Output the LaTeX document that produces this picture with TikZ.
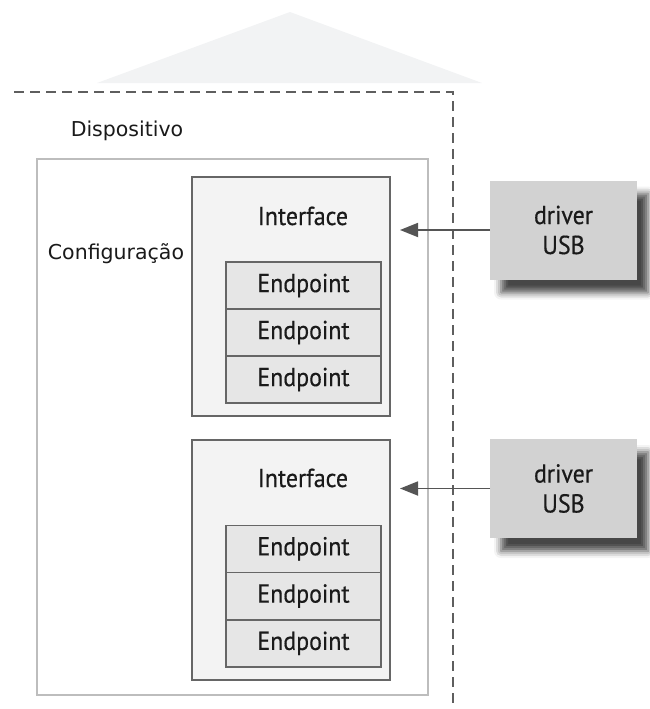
\documentclass[tikz,border=0pt]{standalone}
\usepackage{fontspec}
\setmainfont{DejaVu Sans}
\newfontfamily\myr[FakeStretch=0.92,FakeBold=0.4]{PT Sans}
\usetikzlibrary{shadows.blur,arrows.meta}
\definecolor{trifill}{HTML}{F2F3F4}
\definecolor{dashcol}{HTML}{5E5E5E}
\definecolor{cfgcol}{HTML}{BDBDBD}
\definecolor{ifill}{HTML}{F3F3F3}
\definecolor{idraw}{HTML}{666666}
\definecolor{efill}{HTML}{E6E6E6}
\definecolor{dfill}{HTML}{D2D2D2}
\definecolor{arrcol}{HTML}{555555}
\definecolor{txt}{HTML}{1A1A1A}
\tikzset{
  cfgbox/.style={draw=cfgcol,line width=1.3pt,fill=white,inner sep=0pt,outer sep=0pt,
    minimum width=391pt,minimum height=536pt},
  ifbox/.style={draw=idraw,line width=1.4pt,fill=ifill,inner sep=0pt,outer sep=0pt,
    minimum width=198pt},
  epbox/.style={draw=idraw,line width=1.4pt,fill=efill,inner sep=0pt,outer sep=0pt,
    minimum width=155pt,minimum height=47pt,text=txt,font=\myr\fontsize{26}{30}\selectfont},
  drvbox/.style={fill=dfill,inner sep=0pt,outer sep=0pt,minimum width=147pt,minimum height=99pt,
    align=center,text=txt,font=\myr\fontsize{26}{30}\selectfont,
    blur shadow={shadow xshift=11pt,shadow yshift=-13pt,shadow blur radius=7pt,shadow opacity=72}},
  lbl/.style={inner sep=0pt,text=txt,font=\fontsize{20.5}{24}\selectfont},
  iflbl/.style={inner sep=0pt,text=txt,font=\myr\fontsize{26}{30}\selectfont},
  conn/.style={draw=arrcol,line width=1.8pt,-{Triangle[length=18pt,width=14pt]}},
  dashln/.style={draw=dashcol,line width=1.7pt,dash pattern=on 10pt off 6pt}
}
\begin{document}
\begin{tikzpicture}[x=1pt,y=-1pt]
\useasboundingbox (0,0) rectangle (649,709);
% faint triangle
\fill[trifill] (97,83) -- (290,12) -- (482,83) -- cycle;
% dashed device boundary
\coordinate (d1) at (14,92);
\coordinate (d2) at (453,92);
\coordinate (d3) at (453,709);
\draw[dashln] (d1) -- (d2) -- (d3);
% configuration box
\node[cfgbox] (cfg) at (232.5,427) {};
\node[lbl] (disp) at (127,131) {Dispositivo};
\node[lbl] (conf) at (116,254) {Configuração};
% interface 1
\node[ifbox,minimum height=239pt] (if1) at (291,296.5) {};
\node[iflbl] (if1l) at (303,216) {Interface};
\node[epbox] (e11) at (303.5,285.5) {Endpoint};
\node[epbox] (e12) at (303.5,332.5) {Endpoint};
\node[epbox] (e13) at (303.5,379.5) {Endpoint};
% interface 2
\node[ifbox,minimum height=240pt] (if2) at (291,560) {};
\node[iflbl] (if2l) at (303,478) {Interface};
\node[epbox] (e21) at (303.5,548.7) {Endpoint};
\node[epbox] (e22) at (303.5,596) {Endpoint};
\node[epbox] (e23) at (303.5,643.3) {Endpoint};
% drivers
\node[drvbox] (drv1) at (563.5,230) {driver\\USB};
\node[drvbox] (drv2) at (563.5,488.5) {driver\\USB};
\coordinate (a1) at (400,230);
\coordinate (a2) at (400,488.5);
\draw[conn] (drv1.west) -- (a1);
\draw[conn] (drv2.west) -- (a2);
\end{tikzpicture}
\end{document}
